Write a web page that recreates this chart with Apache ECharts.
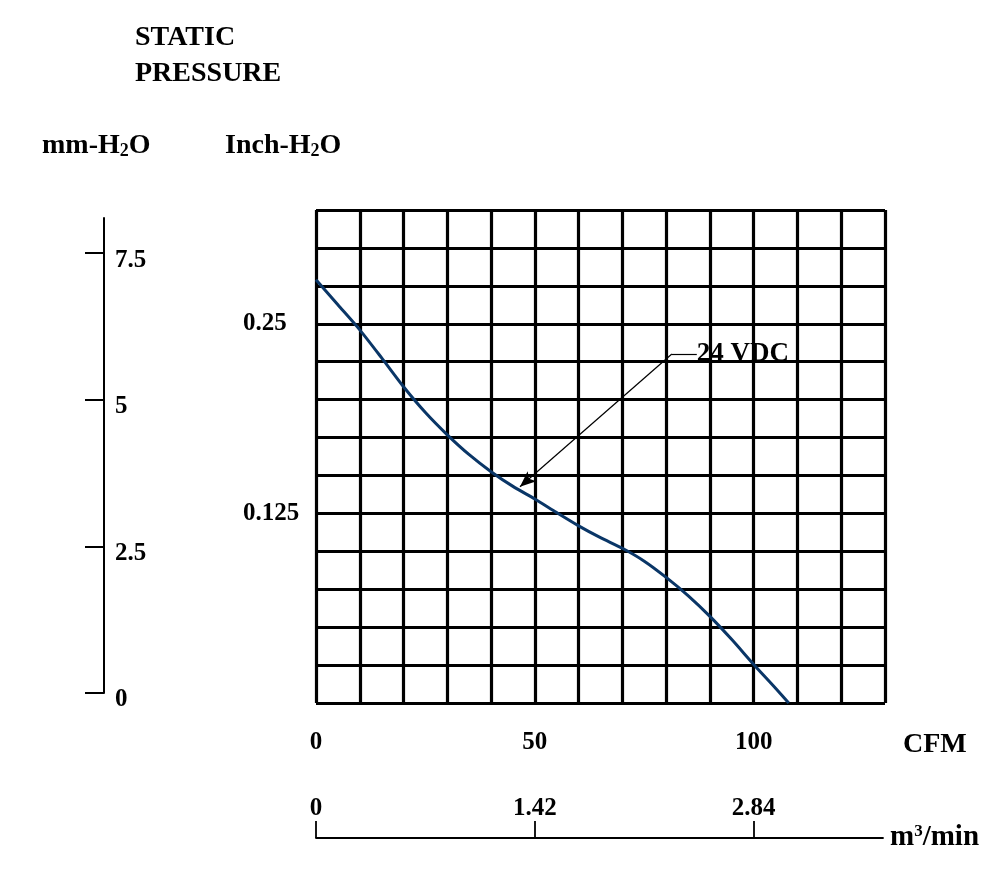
<!DOCTYPE html>
<html>
<head>
<meta charset="utf-8">
<script src="https://cdn.jsdelivr.net/npm/echarts@6/dist/echarts.min.js"></script>
<style>
    html, body { margin: 0; padding: 0; background: #fff; }
    #id_chart { width: 1000px; height: 880px; }
</style>
</head>
<body>
<div id="id_chart"></div>
<script>
    // flow (CFM) and static pressure (inch-H2O)
    var cfmData = [0, 5, 10, 15, 20, 25, 30, 35, 40, 45, 50, 55, 60, 65, 70, 75, 80, 85, 90, 95, 100, 105, 108];
    var inchData = [0.279, 0.2625, 0.246, 0.2275, 0.2085, 0.1915, 0.1768, 0.1637, 0.1525, 0.1428, 0.1345, 0.1255,
        0.1168, 0.109, 0.102, 0.0935, 0.0828, 0.0708, 0.0571, 0.0418, 0.0254, 0.0097, 0];

    var cfmTicks = [0, 50, 100];          // CFM labels
    var inchTicks = [0.125, 0.25];        // Inch-H2O labels
    var mmTicks = [0, 2.5, 5, 7.5];       // mm-H2O scale
    var m3Ticks = [0, 1.42, 2.84];        // m3/min scale

    var seriesName = "24 VDC";
    var arrowFrom = [81.3, 0.2301];       // annotation leader, in CFM / inch
    var arrowTo = [46.6, 0.1426];
    var leaderEnd = [87.0, 0.2301];

    var FONT = '"Liberation Serif", "Times New Roman", serif';
    var black = "#000";

    var points = cfmData.map(function (c, i) { return [c, inchData[i]]; });

    var chart = echarts.init(document.getElementById("id_chart"));

    var labelStyle = {
        fontFamily: FONT,
        fontWeight: "bold",
        fontSize: 25,
        color: black
    };

    function richUnit(fontSize, subSize, subAlign) {
        return {
            a: {font: "bold " + fontSize + "px " + FONT, fill: black, verticalAlign: "bottom"},
            s: {font: "bold " + subSize + "px " + FONT, fill: black, verticalAlign: subAlign}
        };
    }

    var option = {
        animation: false,
        backgroundColor: "#fff",
        grid: [
            {left: 316, top: 210, width: 569, height: 493},     // main chart
            {left: 104, top: 218, width: 10, height: 475},      // mm-H2O scale
            {left: 316, top: 837, width: 567, height: 1}        // m3/min scale
        ],
        xAxis: [
            {
                gridIndex: 0,
                type: "value",
                min: 0,
                max: 130,
                interval: 10,
                axisLine: {show: false},
                axisTick: {show: false},
                splitLine: {show: true, lineStyle: {color: black, width: 3.2}},
                axisLabel: Object.assign({customValues: cfmTicks, margin: 27}, labelStyle)
            },
            {
                gridIndex: 1,
                type: "value",
                show: false
            },
            {
                gridIndex: 2,
                type: "value",
                min: 0,
                max: 3.68,
                position: "bottom",
                axisLine: {show: true, lineStyle: {color: black, width: 1.8}},
                axisTick: {show: true, inside: true, length: 17, customValues: m3Ticks,
                    lineStyle: {color: black, width: 1.8}},
                splitLine: {show: false},
                axisLabel: Object.assign({customValues: m3Ticks, inside: true, margin: 17}, labelStyle)
            }
        ],
        yAxis: [
            {
                gridIndex: 0,
                type: "value",
                min: 0,
                max: 0.325,
                interval: 0.025,
                axisLine: {show: false},
                axisTick: {show: false},
                splitLine: {show: true, lineStyle: {color: black, width: 3.2}},
                axisLabel: Object.assign({customValues: inchTicks, align: "left", margin: 73}, labelStyle)
            },
            {
                gridIndex: 1,
                type: "value",
                min: 0,
                max: 8.1,
                position: "left",
                axisLine: {show: true, lineStyle: {color: black, width: 2}},
                axisTick: {show: true, inside: false, length: 19, customValues: mmTicks,
                    lineStyle: {color: black, width: 2}},
                splitLine: {show: false},
                axisLabel: Object.assign({customValues: mmTicks, inside: true, margin: 11,
                    verticalAlign: "top", lineHeight: 14}, labelStyle)
            },
            {
                gridIndex: 2,
                type: "value",
                show: false
            }
        ],
        graphic: [
            {type: "text", left: 135, top: 24,
                style: {text: "STATIC", font: "bold 28px " + FONT, fill: black}},
            {type: "text", left: 135, top: 60,
                style: {text: "PRESSURE", font: "bold 28px " + FONT, fill: black}},
            {type: "text", left: 42, top: 132,
                style: {text: "{a|mm-H}{s|2}{a|O}", rich: richUnit(28, 18, "bottom")}},
            {type: "text", left: 225, top: 132,
                style: {text: "{a|Inch-H}{s|2}{a|O}", rich: richUnit(28, 18, "bottom")}},
            {type: "text", left: 903, top: 731,
                style: {text: "CFM", font: "bold 28px " + FONT, fill: black}},
            {type: "text", left: 890, top: 823,
                style: {text: "{a|m}{s|3}{a|/min}", rich: richUnit(29, 17, "top")}}
        ],
        series: [
            {
                name: seriesName,
                type: "line",
                xAxisIndex: 0,
                yAxisIndex: 0,
                data: points,
                smooth: 0.25,
                showSymbol: false,
                lineStyle: {color: "#0a3667", width: 3},
                markLine: {
                    silent: true,
                    animation: false,
                    lineStyle: {color: black, width: 1.2, type: "solid"},
                    label: {show: false},
                    data: [
                        [
                            {coord: arrowFrom, symbol: "none"},
                            {coord: arrowTo, symbol: "arrow", symbolSize: [10, 16]}
                        ],
                        [
                            {
                                coord: arrowFrom, symbol: "none",
                                label: {
                                    show: true, position: "end", distance: 0,
                                    formatter: seriesName,
                                    fontFamily: FONT, fontWeight: "bold", fontSize: 27, color: black
                                }
                            },
                            {coord: leaderEnd, symbol: "none"}
                        ]
                    ]
                }
            }
        ]
    };

    chart.setOption(option);
</script>
</body>
</html>
